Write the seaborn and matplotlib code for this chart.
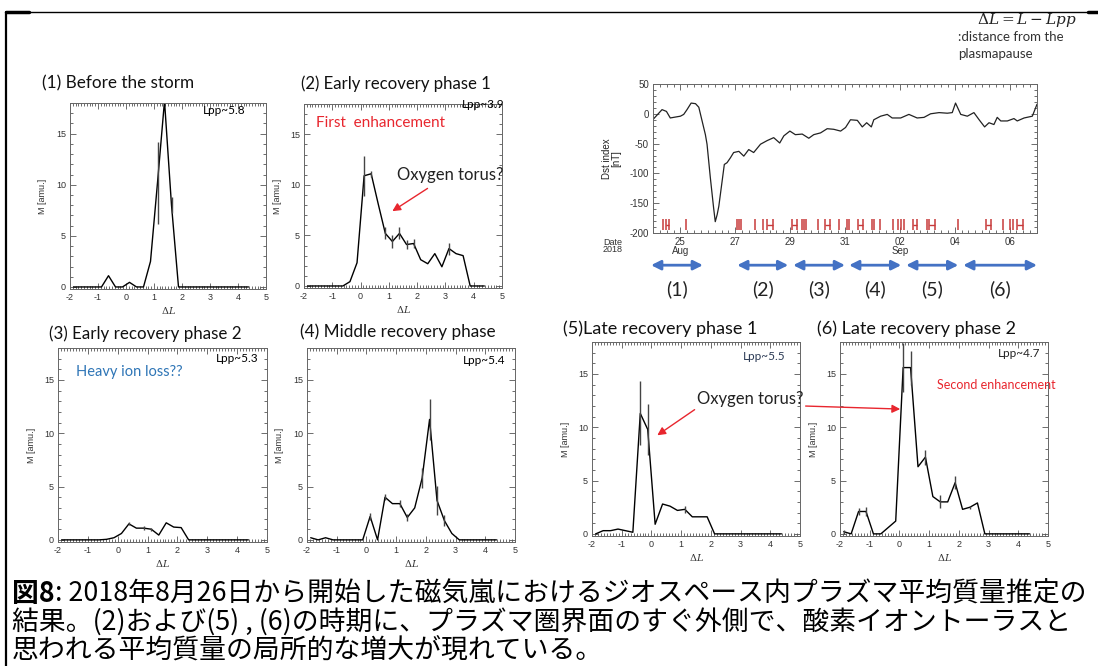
import matplotlib
matplotlib.use("Agg")
import matplotlib.pyplot as plt
import seaborn as sns
import pandas as pd
from matplotlib.ticker import MultipleLocator, FixedLocator
from matplotlib.lines import Line2D

# ---------------- data ----------------
dL_bins = [-1.875, -1.625, -1.375, -1.125, -0.875, -0.625, -0.375, -0.125, 0.125, 0.375,
           0.625, 0.875, 1.125, 1.375, 1.625, 1.875, 2.125, 2.375, 2.625, 2.875,
           3.125, 3.375, 3.625, 3.875, 4.125, 4.375]

m1 = [0, 0, 0, 0, 0, 1.1, 0, 0, 0.45, 0, 0, 2.5, 10.2, 18.2, 8.0, 0, 0, 0, 0, 0, 0, 0, 0, 0, 0, 0]
e1 = [0, 0, 0, 0, 0, 0, 0, 0, 0, 0, 0, 0, 4.0, 0, 0.8, 0, 0, 0, 0, 0, 0, 0, 0, 0, 0, 0]
m2 = [0, 0, 0, 0, 0, 0, 0.43, 2.3, 10.9, 11.1, 8.1, 5.2, 4.4, 5.2, 4.1, 4.2, 2.6, 2.2, 3.2, 1.9, 3.7, 3.2, 3.0, 0, 0, 0]
e2 = [0, 0, 0, 0, 0, 0, 0, 0, 2.0, 0.3, 0, 0.6, 0.6, 0.6, 0.4, 0.4, 0, 0, 0, 0, 0.6, 0, 0, 0, 0, 0]
m3 = [0, 0, 0, 0, 0, 0, 0.05, 0.2, 0.6, 1.5, 1.1, 1.1, 1.0, 0.45, 1.6, 1.2, 1.15, 0, 0, 0, 0, 0, 0, 0, 0, 0]
e3 = [0, 0, 0, 0, 0, 0, 0, 0, 0, 0.15, 0, 0.2, 0.15, 0, 0, 0, 0, 0, 0, 0, 0, 0, 0, 0, 0, 0]
m4 = [0.2, 0, 0.2, 0, 0, 0, 0, 0, 2.2, 0, 4.0, 3.4, 3.4, 2.1, 3.0, 5.8, 11.3, 3.7, 1.8, 0.6, 0, 0, 0, 0, 0, 0]
e4 = [0, 0, 0, 0, 0, 0, 0, 0, 0.3, 0, 0.3, 0, 0.3, 0.3, 0, 0.9, 1.9, 1.4, 0.5, 0, 0, 0, 0, 0, 0, 0]
m5 = [0, 0.3, 0.3, 0.45, 0.3, 0.15, 11.3, 9.8, 0.9, 2.8, 2.6, 2.2, 2.3, 1.6, 1.6, 1.6, 0, 0, 0, 0, 0, 0, 0, 0, 0, 0]
e5 = [0, 0, 0, 0, 0, 0, 3.0, 2.4, 0, 0, 0, 0, 0.3, 0, 0, 0, 0, 0, 0, 0, 0, 0, 0, 0, 0, 0]
m6 = [0.2, 0, 2.1, 2.1, 0, 0, 0.6, 1.2, 15.6, 15.6, 6.3, 7.2, 3.5, 3.0, 3.0, 4.8, 2.3, 2.5, 2.9, 0, 0, 0, 0, 0, 0, 0]
e6 = [0.2, 0, 0.3, 0.4, 0, 0, 0, 0, 2.3, 1.6, 0, 0.7, 0, 0.6, 0, 0.6, 0, 0.15, 0, 0, 0, 0, 0, 0, 0, 0]

panel_titles = ["(1) Before the storm", "(2) Early recovery phase 1", "(3) Early recovery phase 2",
                "(4) Middle recovery phase", "(5)Late recovery phase 1", "(6) Late recovery phase 2"]
lpp_labels = ["Lpp~5.8", "Lpp~3.9", "Lpp~5.3", "Lpp~5.4", "Lpp~5.5", "Lpp~4.7"]

# Dst index (time in days of August 2018; Sep 1 = 32)
dst_day = [24.00, 24.33, 24.49, 24.63, 24.75, 25.00, 25.12, 25.24, 25.39, 25.55,
           25.67, 25.79, 25.91, 25.97, 26.09, 26.21, 26.27, 26.34, 26.40, 26.52,
           26.60, 26.70, 26.82, 26.94, 27.13, 27.31, 27.49, 27.67, 27.92, 28.16,
           28.40, 28.62, 28.77, 28.99, 29.19, 29.44, 29.68, 29.86, 30.11, 30.35,
           30.59, 30.84, 31.02, 31.20, 31.45, 31.63, 31.79, 31.96, 32.05, 32.30,
           32.54, 32.72, 33.03, 33.33, 33.63, 33.88, 34.12, 34.43, 34.73, 34.91,
           35.03, 35.22, 35.46, 35.70, 35.89, 36.09, 36.25, 36.43, 36.55, 36.68,
           36.92, 37.16, 37.28, 37.53, 37.83, 38.00]
dst_val = [-9.5, 7, 4, -7, -6, -4, -1, 7, 18, 17,
           11, -12, -35, -51, -107, -158, -181, -169, -155, -113,
           -85, -82, -74, -65, -63, -71, -60, -65, -51, -45,
           -40, -49, -37, -29, -35, -34, -41, -35, -32, -25,
           -26, -29, -23, -10, -11, -22, -15, -22, -10, -4,
           -1, -7, -7, -1, -7, -6, 0, 2, 1, 2,
           18, -1, -4, 2, -10, -22, -15, -18, -6, -12,
           -12, -8, -12, -7, -4, 16]

# observation marks (red) on the Dst panel
obs_single = [24.36, 25.20, 27.07, 27.14, 27.21, 27.72, 28.01, 29.44, 29.51, 29.58,
              30.02, 30.79, 31.08, 31.15, 31.99, 32.07, 32.28, 32.76, 32.94, 33.05,
              33.16, 34.00, 35.13, 36.77, 37.03, 37.14]
obs_pair_start = [24.47, 28.16, 29.07, 30.28, 31.48, 33.49, 34.07, 36.15, 37.28]
obs_pair_end = [24.58, 28.38, 29.26, 30.46, 31.66, 33.64, 34.29, 36.34, 37.50]

period_labels = ["(1)", "(2)", "(3)", "(4)", "(5)", "(6)"]
period_start = [23.93, 27.07, 29.11, 31.15, 33.23, 35.31]
period_end = [25.82, 28.93, 31.00, 33.05, 35.13, 38.00]

dst_ticks = [25, 27, 29, 31, 33, 35, 37]
dst_ticklabels = ["25\nAug", "27", "29", "31", "02\nSep", "04", "06"]

caption_head = "図8"
caption_lines = [": 2018年8月26日から開始した磁気嵐におけるジオスペース内プラズマ平均質量推定の",
                 "結果。(2)および(5) , (6)の時期に、プラズマ圏界面のすぐ外側で、酸素イオントーラスと",
                 "思われる平均質量の局所的な増大が現れている。"]

# ---------------- style ----------------
sns.set_theme(style="ticks")
plt.rcParams['font.family'] = ['Lato', 'DejaVu Sans']
plt.rcParams['mathtext.fontset'] = 'dejavuserif'
plt.rcParams['axes.unicode_minus'] = False

W, H = 1098, 666
fig = plt.figure(figsize=(W / 100, H / 100), dpi=100)
fig.patch.set_facecolor('white')

def fx(px):
    return px / W

def fy(py):
    return 1 - py / H

def add_ax(x0, y0, x1, y1):
    return fig.add_axes([x0 / W, 1 - y1 / H, (x1 - x0) / W, (y1 - y0) / H])

TICKFONT = 'Liberation Sans'

def style_axes(ax):
    for s in ax.spines.values():
        s.set_linewidth(0.7)
        s.set_color('#666666')
    ax.tick_params(which='both', direction='in', top=True, right=True, colors='#555555',
                   labelcolor='#333333', labelsize=6.5, width=0.6, pad=3)
    ax.tick_params(which='major', length=4)
    ax.tick_params(which='minor', length=2)
    for lab in ax.get_xticklabels() + ax.get_yticklabels():
        lab.set_fontfamily(TICKFONT)
    ax.set_facecolor('white')

# ---------------- M panels ----------------
panel_rects = [(70, 103, 266, 289), (304, 104, 502, 288), (58, 348, 267, 542),
               (307, 348, 515, 542), (592, 342, 800, 536), (840, 342, 1048, 536)]
panel_m = [m1, m2, m3, m4, m5, m6]
panel_e = [e1, e2, e3, e4, e5, e6]
title_pos = [(42, 83, 12.3), (301, 84, 12.1), (49, 334, 12.2), (300, 332, 12.3),
             (563, 329, 13.0), (817, 329, 13.0)]
lpp_pos = [(0.893, 0.962), (1.015, 0.995), (0.957, 0.948), (0.952, 0.938), (0.928, 0.923), (0.962, 0.943)]
lpp_colors = ['black', 'black', 'black', 'black', '#2b3a55', '#222222']

axes = []
for i in range(6):
    ax = add_ax(*panel_rects[i])
    df = pd.DataFrame({"dL": dL_bins, "M": panel_m[i], "err": panel_e[i]})
    sns.lineplot(data=df, x="dL", y="M", ax=ax, color='black', lw=1.0, sort=False,
                 estimator=None, clip_on=True)
    sub = df[df["err"] > 0]
    ax.vlines(sub["dL"], sub["M"] - sub["err"], sub["M"] + sub["err"], color='#444444', lw=1.0)
    ax.set_xlim(-2, 5)
    ax.set_ylim(-0.2, 18)
    ax.xaxis.set_major_locator(MultipleLocator(1))
    ax.xaxis.set_minor_locator(MultipleLocator(0.1))
    ax.yaxis.set_major_locator(FixedLocator([0, 5, 10, 15]))
    ax.yaxis.set_minor_locator(MultipleLocator(1))
    ax.set_xlabel(r"$\Delta L$", fontsize=7, labelpad=2, color='#333333')
    ax.set_ylabel("M [amu.]", fontsize=6.5, labelpad=6, color='#333333', family=TICKFONT)
    style_axes(ax)
    ax.text(lpp_pos[i][0], lpp_pos[i][1], lpp_labels[i], transform=ax.transAxes, ha='right',
            va='center', fontsize=8.5, color=lpp_colors[i], clip_on=False)
    tx, ty, tfs = title_pos[i]
    fig.text(fx(tx), fy(ty), panel_titles[i], ha='left', va='center', fontsize=tfs, color='#111111')
    axes.append(ax)

ax1, ax2, ax3, ax4, ax5, ax6 = axes
red = '#e8262e'

ax2.text(0.06, 0.897, "First  enhancement", transform=ax2.transAxes, color=red, fontsize=11,
         ha='left', va='center')
ax2.text(1.29, 11.0, "Oxygen torus?", fontsize=12, color='#222222', ha='left', va='center',
         clip_on=False)
ax2.annotate("", xy=(1.04, 7.25), xytext=(2.45, 9.8),
             arrowprops=dict(arrowstyle='-|>', color=red, lw=1.0, mutation_scale=12),
             annotation_clip=False)

ax3.text(0.086, 0.876, "Heavy ion loss??", transform=ax3.transAxes, color='#2e75b6', fontsize=10.5,
         ha='left', va='center')

ax5.text(1.53, 12.65, "Oxygen torus?", fontsize=12, color='#222222', ha='left', va='center',
         clip_on=False)
ax5.annotate("", xy=(0.12, 9.1), xytext=(1.53, 11.8),
             arrowprops=dict(arrowstyle='-|>', color=red, lw=1.0, mutation_scale=12),
             annotation_clip=False)

ax6.annotate("", xy=(0.12, 11.7), xytext=(-3.25, 12.0),
             arrowprops=dict(arrowstyle='-|>', color=red, lw=1.0, mutation_scale=12),
             annotation_clip=False)
ax6.text(0.466, 0.778, "Second enhancement", transform=ax6.transAxes, color=red, fontsize=9,
         ha='left', va='center')

# ---------------- Dst panel ----------------
axd = add_ax(653, 84, 1037, 233)
ddf = pd.DataFrame({"day": dst_day, "dst": dst_val})
sns.lineplot(data=ddf, x="day", y="dst", ax=axd, color='#222222', lw=0.9, sort=False, estimator=None)
axd.vlines(obs_single, -195, -177, color='#c83a3a', lw=1.1)
axd.vlines(obs_pair_start + obs_pair_end, -195, -177, color='#c83a3a', lw=1.1)
axd.hlines([-186] * len(obs_pair_start), obs_pair_start, obs_pair_end, color='#c83a3a', lw=1.0)
axd.set_xlim(24, 38)
axd.set_ylim(-200, 50)
axd.xaxis.set_major_locator(FixedLocator(dst_ticks))
axd.set_xticklabels(dst_ticklabels)
axd.xaxis.set_minor_locator(MultipleLocator(0.25))
axd.yaxis.set_major_locator(MultipleLocator(50))
axd.yaxis.set_minor_locator(MultipleLocator(10))
axd.set_xlabel("")
axd.set_ylabel("Dst index\n[nT]", fontsize=7, linespacing=0.9, labelpad=6, family=TICKFONT,
               color='#222222')
style_axes(axd)
axd.tick_params(axis='both', labelsize=7)
for lab in axd.get_xticklabels():
    lab.set_linespacing(0.8)
fig.text(fx(603), fy(246), "Date\n2018", fontsize=6.5, family=TICKFONT, color='#333333',
         ha='left', va='center', linespacing=0.8)

trans = axd.get_xaxis_transform()
for lab, s, e in zip(period_labels, period_start, period_end):
    axd.annotate("", xy=(e, -0.216), xytext=(s, -0.216), xycoords=trans, textcoords=trans,
                 arrowprops=dict(arrowstyle='<|-|>', color='#4472c4', lw=2.0, mutation_scale=14,
                                 shrinkA=0, shrinkB=0),
                 annotation_clip=False)
    axd.text((s + e) / 2, -0.375, lab, transform=trans, ha='center', va='center', fontsize=14,
             color='#222222', clip_on=False)

fig.text(fx(1077), fy(20), r"$\Delta L = L - Lpp$", ha='right', va='center', fontsize=11,
         color='#222222')
fig.text(fx(958), fy(37), ":distance from the", ha='left', va='center', fontsize=9.5, color='#333333')
fig.text(fx(958), fy(54), "plasmapause", ha='left', va='center', fontsize=9.5, color='#333333')

# ---------------- frame ----------------
fig.add_artist(Line2D([fx(6), fx(6)], [fy(12), fy(666)], color='black', lw=1.6))
fig.add_artist(Line2D([fx(6), 1.0], [fy(12), fy(12)], color='black', lw=1.0))
fig.add_artist(Line2D([fx(6), fx(29)], [fy(12), fy(12)], color='black', lw=2.5))
fig.add_artist(Line2D([fx(1088), 1.0], [fy(12), fy(12)], color='black', lw=2.5))

# ---------------- caption ----------------
cap_family = ['Noto Sans CJK JP', 'DejaVu Sans']
renderer = fig.canvas.get_renderer()
pb = fig.text(0, 0, caption_head, fontsize=18, fontweight='bold', family=cap_family)
pr = fig.text(0, 0, caption_lines[0], fontsize=18, family=cap_family)
wprobe = pb.get_window_extent(renderer).width + pr.get_window_extent(renderer).width
pb.remove()
pr.remove()
cap_fs = 18 * (1072 / wprobe)

bold = fig.text(fx(12), fy(594), caption_head, fontsize=cap_fs, fontweight='bold', family=cap_family,
                ha='left', va='center', color='black')
bb = bold.get_window_extent(renderer)
fig.text(bb.x1 / W, fy(594), caption_lines[0], fontsize=cap_fs, family=cap_family,
         ha='left', va='center', color='black')
fig.text(fx(12), fy(622), caption_lines[1], fontsize=cap_fs, family=cap_family,
         ha='left', va='center', color='black')
fig.text(fx(12), fy(650), caption_lines[2], fontsize=cap_fs, family=cap_family,
         ha='left', va='center', color='black')

fig.savefig("out.png", dpi=100, facecolor='white')
